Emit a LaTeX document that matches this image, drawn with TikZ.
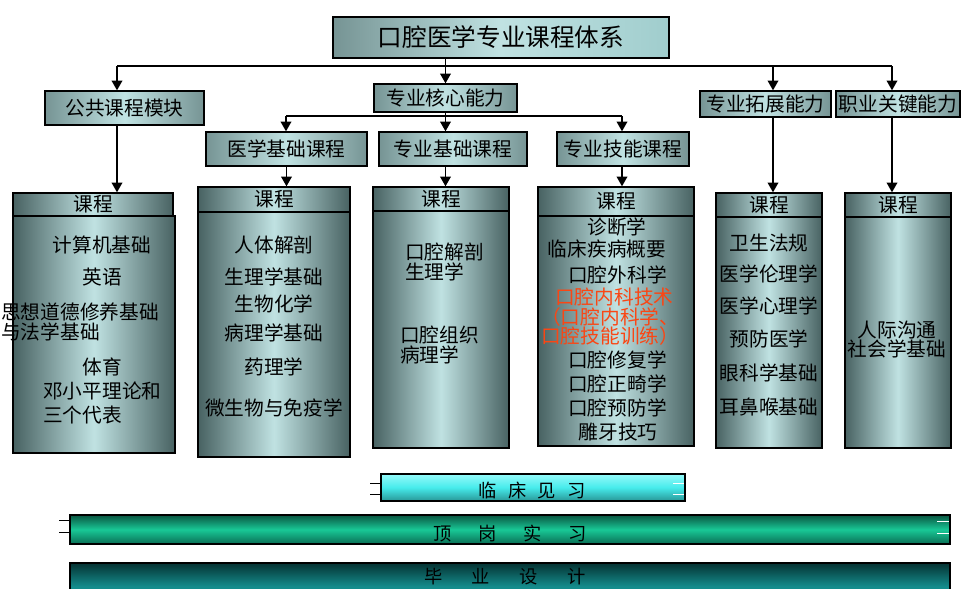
\documentclass[tikz,border=0pt]{standalone}
\usepackage{fontspec}
\setmainfont{Noto Sans CJK SC}
\usetikzlibrary{fit,arrows.meta}

\definecolor{darkteal}{RGB}{72,98,98}
\definecolor{tealgray}{RGB}{118,148,148}
\definecolor{lightteal}{RGB}{192,226,226}
\definecolor{paleteal}{RGB}{160,205,205}
\definecolor{courseorange}{RGB}{250,70,20}
\definecolor{cyantop}{RGB}{150,250,250}
\definecolor{cyanmid}{RGB}{70,235,235}
\definecolor{cyanbot}{RGB}{40,150,150}
\definecolor{greentop}{RGB}{10,85,65}
\definecolor{greenmid}{RGB}{25,200,150}
\definecolor{greenbot}{RGB}{10,110,85}
\definecolor{deeptop}{RGB}{5,50,50}
\definecolor{deepmid}{RGB}{20,140,140}

\begin{document}
\begin{tikzpicture}[x=0.025cm, y=-0.025cm,
    every node/.style={font=\fontsize{14}{16}\selectfont},
    box/.style={draw, line width=0.9pt, inner sep=0pt},
    titlebox/.style={box, left color=tealgray, right color=paleteal, middle color=lightteal},
    headbox/.style={box, left color=tealgray, right color=tealgray, middle color=lightteal},
    colbox/.style={box, left color=darkteal, right color=darkteal, middle color=lightteal},
    barcyan/.style={box, top color=cyantop, bottom color=cyanbot, middle color=cyanmid},
    bargreen/.style={box, top color=greentop, bottom color=greenbot, middle color=greenmid},
    barteal/.style={box, top color=deeptop, bottom color=deepmid, middle color=deepmid},
    bartext/.style={font=\fontsize{13}{15}\selectfont},
    redtext/.style={text=courseorange},
    arr/.style={-{Triangle[length=7pt,width=7.5pt]}, line width=1.4pt},
    rule/.style={line width=0.8pt},
    tick/.style={line width=0.6pt}]
    \useasboundingbox (0,0) rectangle (962,588);

    \node[titlebox, fit={(333,17)(669,58)}, label={[font=\fontsize{17.5}{20}\selectfont]center:口腔医学专业课程体系}] (title) {};
    \node[headbox, fit={(45,91)(204,125)}, label=center:公共课程模块] (gonggong) {};
    \node[headbox, fit={(374,84)(517,112)}, label=center:专业核心能力] (hexin) {};
    \node[headbox, fit={(206,132)(367,166)}, label=center:医学基础课程] (yixue) {};
    \node[headbox, fit={(379,132)(527,166)}, label=center:专业基础课程] (zhuanye) {};
    \node[headbox, fit={(557,132)(689,166)}, label=center:专业技能课程] (jineng) {};
    \node[headbox, fit={(700,91)(831,117)}, label=center:专业拓展能力] (tuozhan) {};
    \node[headbox, fit={(836,91)(960,117)}, label=center:职业关键能力] (guanjian) {};

    \node[colbox, fit={(13,216)(175,453)}] (c1) {};
    \node[colbox, fit={(13,193)(173,216)}, label=center:课程] (h1) {};
    \node[colbox, fit={(198,212)(350,457)}] (c2) {};
    \node[colbox, fit={(198,187)(350,212)}, label=center:课程] (h2) {};
    \node[colbox, fit={(373,211)(509,448)}] (c3) {};
    \node[colbox, fit={(373,187)(509,211)}, label=center:课程] (h3) {};
    \node[colbox, fit={(538,216)(694,446)}] (c4) {};
    \node[colbox, fit={(538,187)(694,216)}, label=center:课程] (h4) {};
    \node[colbox, fit={(716,217)(822,448)}] (c5) {};
    \node[colbox, fit={(716,193)(822,217)}, label=center:课程] (h5) {};
    \node[colbox, fit={(845,217)(951,448)}] (c6) {};
    \node[colbox, fit={(845,193)(951,217)}, label=center:课程] (h6) {};

    \coordinate (l1) at (117,66);
    \coordinate (r1) at (892,66);
    \coordinate (t1) at (773,66);
    \coordinate (m1) at (286,116);
    \coordinate (m2) at (622,116);

    \draw[rule] (l1) -- (r1);
    \draw[arr] (l1) -- (l1 |- gonggong.north);
    \draw[arr] (hexin.north |- title.south) -- (hexin.north);
    \draw[arr] (t1) -- (t1 |- tuozhan.north);
    \draw[arr] (r1) -- (r1 |- guanjian.north);
    \draw[arr] (l1 |- gonggong.south) -- (l1 |- h1.north);
    \draw[arr] (t1 |- tuozhan.south) -- (t1 |- h5.north);
    \draw[arr] (r1 |- guanjian.south) -- (r1 |- h6.north);

    \draw[rule] (m1) -- (m2);
    \draw[arr] (hexin.south) -- (hexin.south |- zhuanye.north);
    \draw[arr] (m1) -- (m1 |- yixue.north);
    \draw[arr] (m2) -- (m2 |- jineng.north);
    \draw[arr] (yixue.south) -- (yixue.south |- h2.north);
    \draw[arr] (hexin.south |- zhuanye.south) -- (hexin.south |- h3.north);
    \draw[arr] (m2 |- jineng.south) -- (m2 |- h4.north);

    \node (a1) at (102,245) {计算机基础};
    \node (a2) at (102,277) {英语};
    \node[anchor=west, inner sep=0pt] (a3) at (1,312) {思想道德修养基础};
    \node[anchor=west, inner sep=0pt] (a4) at (1,332) {与法学基础};
    \node (a5) at (102,367) {体育};
    \node[anchor=west, inner sep=0pt] (a6) at (43,391) {邓小平理论和};
    \node[anchor=west, inner sep=0pt] (a7) at (43,415) {三个代表};

    \node (b1) at (274,245) {人体解剖};
    \node (b2) at (274,277) {生理学基础};
    \node (b3) at (274,304) {生物化学};
    \node (b4) at (274,333) {病理学基础};
    \node (b5) at (274,367) {药理学};
    \node (b6) at (274,408) {微生物与免疫学};

    \node[anchor=west, inner sep=0pt] (d1) at (405,252) {口腔解剖};
    \node[anchor=west, inner sep=0pt] (d2) at (405,272) {生理学};
    \node[anchor=west, inner sep=0pt] (d3) at (400,335) {口腔组织};
    \node[anchor=west, inner sep=0pt] (d4) at (400,355) {病理学};

    \node (e1) at (617,227) {诊断学};
    \node (e2) at (607,249) {临床疾病概要};
    \node[anchor=west, inner sep=0pt] (e3) at (568,275) {口腔外科学};
    \node[anchor=west, inner sep=0pt, redtext] (e4) at (555,297) {口腔内科技术};
    \node[anchor=west, inner sep=0pt, redtext] (e5) at (541,317) {（口腔内科学、};
    \node[anchor=west, inner sep=0pt, redtext] (e6) at (541,336) {口腔技能训练）};
    \node[anchor=west, inner sep=0pt] (e7) at (568,360) {口腔修复学};
    \node[anchor=west, inner sep=0pt] (e8) at (568,384) {口腔正畸学};
    \node[anchor=west, inner sep=0pt] (e9) at (568,408) {口腔预防学};
    \node (e10) at (618,432) {雕牙技巧};

    \node (f1) at (769,243) {卫生法规};
    \node (f2) at (769,274) {医学伦理学};
    \node (f3) at (769,306) {医学心理学};
    \node (f4) at (769,339) {预防医学};
    \node (f5) at (769,373) {眼科学基础};
    \node (f6) at (769,407) {耳鼻喉基础};

    \node (g1) at (897,330) {人际沟通};
    \node (g2) at (897,349) {社会学基础};

    \node[barcyan, fit={(381,474)(685,501)}] (jianxi) {};
    \node[bargreen, fit={(70,515)(950,544)}] (shixi) {};
    \node[barteal, fit={(70,563)(950,610)}] (sheji) {};
    \node[bartext] (jianxit) at (532,490) {临\hspace{8pt}床\hspace{8pt}见\hspace{8pt}习};
    \node[bartext] (shixit) at (510,533) {顶\hspace{19pt}岗\hspace{19pt}实\hspace{19pt}习};
    \node[bartext] (shejit) at (505,577) {毕\hspace{21pt}业\hspace{21pt}设\hspace{21pt}计};

    \draw[tick] (370,483) -- (381,483);
    \draw[tick] (370,494) -- (381,494);
    \draw[tick, white] (673,483) -- (684,483);
    \draw[tick, white] (673,494) -- (684,494);
    \draw[tick] (59,520) -- (70,520);
    \draw[tick] (59,532) -- (70,532);
    \draw[tick, white] (937,521) -- (949,521);
    \draw[tick, white] (937,533) -- (949,533);
\end{tikzpicture}
\end{document}
